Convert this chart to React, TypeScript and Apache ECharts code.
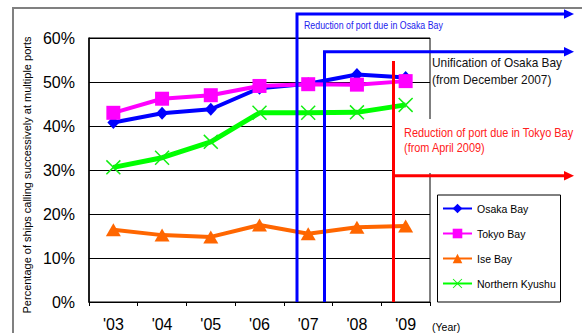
import React, { useEffect, useRef } from "react";
import * as echarts from "echarts";

const categories = ["'03", "'04", "'05", "'06", "'07", "'08", "'09"];
const osakaBay = [40.8, 42.9, 43.8, 48.6, 49.6, 51.7, 51.0];
const tokyoBay = [43.0, 46.2, 47.0, 49.1, 49.5, 49.4, 50.2];
const iseBay = [16.4, 15.2, 14.8, 17.5, 15.5, 17.0, 17.3];
const northernKyushu = [30.6, 32.8, 36.4, 43.0, 43.0, 43.1, 44.8];
const seriesNames = ["Osaka Bay", "Tokyo Bay", "Ise Bay", "Northern Kyushu"];
const yTicks = [0, 10, 20, 30, 40, 50, 60];

const FONT = "'Liberation Sans', Arial, sans-serif";
const X_SYMBOL =
  "path://M0,0.7 L0.7,0 L5,4.3 L9.3,0 L10,0.7 L5.7,5 L10,9.3 L9.3,10 L5,5.7 L0.7,10 L0,9.3 L4.3,5 Z";

export default function App() {
  const ref = useRef<HTMLDivElement>(null);
  useEffect(() => {
    if (!ref.current) return;
    const chart = echarts.init(ref.current, null, { renderer: "svg" });
    const arrow = (y: number, color: string) => ({
      type: "polygon",
      z: 60,
      shape: { points: [[564, y - 4.7], [574, y], [564, y + 4.7]] },
      style: { fill: color },
    });
    const lineEl = (pts: number[][], color: string) => ({
      type: "polyline",
      z: 60,
      shape: { points: pts },
      style: { stroke: color, lineWidth: 3, fill: "none" },
    });
    const label = (
      text: string,
      x: number,
      y: number,
      size: number,
      fill: string,
      scaleX = 1
    ) => ({
      type: "text",
      z: 70,
      x,
      y,
      scaleX,
      style: { text, fontSize: size, fontFamily: FONT, fill, verticalAlign: "middle" },
    });
    chart.setOption({
      animation: false,
      backgroundColor: "#ffffff",
      grid: {
        left: 89,
        top: 38,
        right: 152,
        bottom: 31,
        show: true,
        borderColor: "#000",
        borderWidth: 1,
      },
      xAxis: {
        type: "category",
        data: categories,
        boundaryGap: true,
        axisLine: { show: true, lineStyle: { color: "#000", width: 1 } },
        axisTick: { show: true, length: 4, lineStyle: { color: "#000" } },
        axisLabel: { color: "#000", fontSize: 16, fontFamily: FONT, margin: 14 },
        splitLine: { show: false },
      },
      yAxis: {
        type: "value",
        min: yTicks[0],
        max: yTicks[yTicks.length - 1],
        interval: 10,
        axisLine: { show: true, lineStyle: { color: "#000", width: 1.5 } },
        axisTick: { show: false },
        axisLabel: {
          color: "#000",
          fontSize: 16,
          fontFamily: FONT,
          margin: 14,
          formatter: "{value}%",
        },
        splitLine: { show: true, lineStyle: { color: "#000", width: 1 } },
      },
      legend: {
        orient: "vertical",
        left: 438,
        top: 195,
        padding: [8, 4, 8, 4],
        itemGap: 14,
        itemWidth: 29,
        itemHeight: 12,
        z: 20,
        data: seriesNames,
        textStyle: { fontSize: 10.5, fontFamily: FONT, color: "#000" },
      },
      series: [
        {
          name: seriesNames[0],
          type: "line",
          data: osakaBay,
          symbol: "diamond",
          symbolSize: [12, 13],
          lineStyle: { color: "#0000ff", width: 4 },
          itemStyle: { color: "#0000ff" },
        },
        {
          name: seriesNames[1],
          type: "line",
          data: tokyoBay,
          symbol: "rect",
          symbolSize: 14,
          lineStyle: { color: "#ff00ff", width: 4 },
          itemStyle: { color: "#ff00ff" },
        },
        {
          name: seriesNames[2],
          type: "line",
          data: iseBay,
          symbol: "triangle",
          symbolSize: [15, 13],
          lineStyle: { color: "#ff6600", width: 4 },
          itemStyle: { color: "#ff6600" },
        },
        {
          name: seriesNames[3],
          type: "line",
          data: northernKyushu,
          symbol: X_SYMBOL,
          symbolSize: 15,
          lineStyle: { color: "#00ff00", width: 5 },
          itemStyle: { color: "#11ee11" },
        },
      ],
      graphic: [
        {
          type: "polyline",
          z: 1,
          shape: { points: [[13, 340], [13, 8], [590, 8]] },
          style: { stroke: "#808080", lineWidth: 2, fill: "none" },
        },
        {
          type: "rect",
          z: 40,
          shape: { x: 395, y: 119, width: 40, height: 54 },
          style: { fill: "#ffffff" },
        },
        {
          type: "rect",
          z: 15,
          shape: { x: 437.5, y: 195, width: 123, height: 107 },
          style: { fill: "#ffffff", stroke: "#000", lineWidth: 1 },
        },
        lineEl([[297, 302], [297, 14], [566, 14]], "#0000ff"),
        arrow(14, "#0000ff"),
        lineEl([[324.5, 302], [324.5, 51.7], [566, 51.7]], "#0000ff"),
        arrow(51.7, "#0000ff"),
        lineEl([[393.5, 61], [393.5, 302]], "#ff0000"),
        lineEl([[393.5, 175.7], [566, 175.7]], "#ff0000"),
        arrow(175.7, "#ff0000"),
        label("Reduction of port due in Osaka Bay", 304, 25, 11, "#2222ee", 0.8),
        label("Unification of Osaka Bay", 432, 63, 12.5, "#111", 0.95),
        label("(from December 2007)", 432, 80, 12.5, "#111", 0.95),
        label("Reduction of port due in Tokyo Bay", 404, 133.3, 12, "#ff2020", 0.91),
        label("(from April 2009)", 404, 148.3, 12, "#ff2020", 0.91),
        label("(Year)", 432, 327, 10.5, "#000"),
        {
          type: "text",
          z: 70,
          x: 27,
          y: 175,
          rotation: Math.PI / 2,
          style: {
            text: "Percentage of ships calling successively at multiple ports",
            fontSize: 11,
            fontFamily: FONT,
            fill: "#000",
            align: "center",
            verticalAlign: "middle",
          },
        },
      ],
    });
    return () => chart.dispose();
  }, []);
  return (
    <div
      ref={ref}
      style={{ position: "fixed", left: 0, top: 0, width: 582, height: 333 }}
    />
  );
}
